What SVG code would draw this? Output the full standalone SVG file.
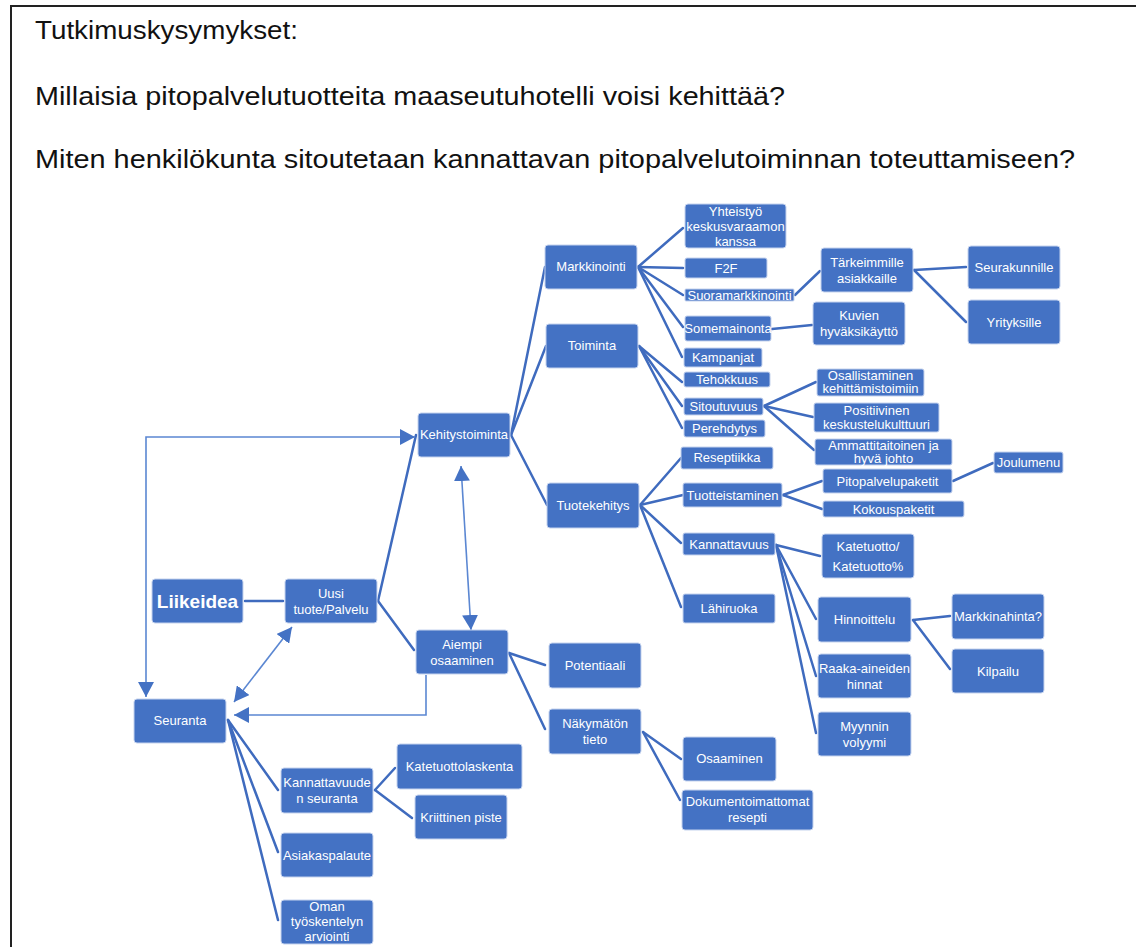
<svg xmlns="http://www.w3.org/2000/svg" width="1136" height="947" viewBox="0 0 1136 947">
  <style>
    .node rect { fill: #4472C4; stroke: #C5D3EE; stroke-width: 1; }
    .node text { fill: #ffffff; font-family: "Liberation Sans", Arial, sans-serif; font-size: 13px; text-anchor: middle; }
    .big text { font-size: 19px; font-weight: bold; }
    .title { font-family: "Liberation Sans", Arial, sans-serif; font-size: 26px; fill: #111111; }
    .link { stroke: #3F6BBE; stroke-width: 2.5; fill: none; stroke-linecap: round; }
    .flow { stroke: #5B87D2; stroke-width: 1.6; fill: none; }
  </style>
  <defs>
    <marker id="head" viewBox="0 0 15 16" refX="15" refY="8" markerWidth="15" markerHeight="16" markerUnits="userSpaceOnUse" orient="auto-start-reverse">
      <path d="M0,0 L15,8 L0,16 z" fill="#4472C4"/>
    </marker>
  </defs>

  <rect width="1136" height="947" fill="#ffffff"/>
  <!-- frame -->
  <path d="M11,947 V6 H1136" fill="none" stroke="#222222" stroke-width="2"/>

  <!-- research questions -->
  <g id="questions">
    <text class="title" x="35" y="39" textLength="263" lengthAdjust="spacingAndGlyphs">Tutkimuskysymykset:</text>
    <text class="title" x="35" y="105" textLength="750" lengthAdjust="spacingAndGlyphs">Millaisia pitopalvelutuotteita maaseutuhotelli voisi kehittää?</text>
    <text class="title" x="35" y="168" textLength="1040" lengthAdjust="spacingAndGlyphs">Miten henkilökunta sitoutetaan kannattavan pitopalvelutoiminnan toteuttamiseen?</text>
  </g>

  <!-- connectors -->
  <g id="connectors">
    <g class="link-set">
      <line class="link" x1="245" y1="601" x2="283" y2="601"/>
      <line class="link" x1="378" y1="601" x2="416" y2="435"/>
      <line class="link" x1="378" y1="601" x2="414" y2="650"/>
      <line class="link" x1="511" y1="435" x2="545" y2="267"/>
      <line class="link" x1="511" y1="435" x2="546" y2="346"/>
      <line class="link" x1="511" y1="435" x2="547" y2="505"/>
      <line class="link" x1="638" y1="267" x2="683" y2="228"/>
      <line class="link" x1="638" y1="267" x2="683" y2="268"/>
      <line class="link" x1="638" y1="267" x2="683" y2="295"/>
      <line class="link" x1="638" y1="267" x2="683" y2="327"/>
      <line class="link" x1="638" y1="267" x2="682" y2="357"/>
      <line class="link" x1="639" y1="346" x2="682" y2="382"/>
      <line class="link" x1="639" y1="346" x2="682" y2="406"/>
      <line class="link" x1="639" y1="346" x2="682" y2="428"/>
      <line class="link" x1="764" y1="406" x2="816" y2="382"/>
      <line class="link" x1="764" y1="406" x2="813" y2="417"/>
      <line class="link" x1="764" y1="406" x2="814" y2="450"/>
      <line class="link" x1="795" y1="295" x2="820" y2="271"/>
      <line class="link" x1="772" y1="329" x2="812" y2="325"/>
      <line class="link" x1="914" y1="270" x2="966" y2="267"/>
      <line class="link" x1="914" y1="270" x2="966" y2="322"/>
      <line class="link" x1="640" y1="505" x2="681" y2="458"/>
      <line class="link" x1="640" y1="505" x2="683" y2="495"/>
      <line class="link" x1="640" y1="505" x2="681" y2="543"/>
      <line class="link" x1="640" y1="505" x2="681" y2="607"/>
      <line class="link" x1="783" y1="495" x2="822" y2="481"/>
      <line class="link" x1="783" y1="495" x2="822" y2="509"/>
      <line class="link" x1="953" y1="481" x2="993" y2="463"/>
      <line class="link" x1="776" y1="545" x2="820" y2="556"/>
      <line class="link" x1="776" y1="545" x2="816" y2="619"/>
      <line class="link" x1="776" y1="545" x2="816" y2="676"/>
      <line class="link" x1="776" y1="545" x2="816" y2="733"/>
      <line class="link" x1="913" y1="620" x2="950" y2="616"/>
      <line class="link" x1="913" y1="620" x2="950" y2="669"/>
      <line class="link" x1="509" y1="653" x2="545" y2="665"/>
      <line class="link" x1="509" y1="653" x2="545" y2="729"/>
      <line class="link" x1="643" y1="732" x2="681" y2="759"/>
      <line class="link" x1="643" y1="732" x2="680" y2="800"/>
      <line class="link" x1="228" y1="720" x2="278" y2="790"/>
      <line class="link" x1="228" y1="720" x2="278" y2="852"/>
      <line class="link" x1="228" y1="720" x2="278" y2="920"/>
      <line class="link" x1="375" y1="790" x2="395" y2="768"/>
      <line class="link" x1="375" y1="790" x2="412" y2="818"/>
    </g>
    <g class="flow-set">
      <path class="flow" d="M146,697 V437 H415" marker-start="url(#head)" marker-end="url(#head)"/>
      <line class="flow" x1="461" y1="466" x2="471" y2="630" marker-start="url(#head)" marker-end="url(#head)"/>
      <line class="flow" x1="234" y1="702" x2="292" y2="627" marker-start="url(#head)" marker-end="url(#head)"/>
      <path class="flow" d="M426,675 V715 H234" marker-end="url(#head)"/>
    </g>
  </g>

  <!-- nodes -->
  <g id="kehitystoiminta" class="node"><rect x="418" y="413" width="92" height="44" rx="3"/><text x="464" y="439">Kehitystoiminta</text></g>
  <g id="liikeidea" class="node big"><rect x="152" y="579" width="91" height="44" rx="3"/><text x="197.5" y="608">Liikeidea</text></g>
  <g id="uusi" class="node"><rect x="285" y="579" width="92" height="44" rx="3"/><text x="331" y="598">Uusi</text><text x="331" y="614">tuote/Palvelu</text></g>
  <g id="aiempi" class="node"><rect x="416" y="630" width="92" height="44" rx="3"/><text x="462" y="649">Aiempi</text><text x="462" y="665">osaaminen</text></g>
  <g id="seuranta" class="node"><rect x="134" y="699" width="92" height="44" rx="3"/><text x="180" y="725">Seuranta</text></g>

  <g id="markkinointi" class="node"><rect x="545" y="245" width="92" height="44" rx="3"/><text x="591" y="271">Markkinointi</text></g>
  <g id="toiminta" class="node"><rect x="546" y="324" width="92" height="44" rx="3"/><text x="592" y="350">Toiminta</text></g>
  <g id="tuotekehitys" class="node"><rect x="547" y="483" width="92" height="45" rx="3"/><text x="593" y="510">Tuotekehitys</text></g>

  <g id="yhteistyo" class="node"><rect x="685" y="204" width="101" height="44" rx="3"/><text x="735.5" y="216">Yhteistyö</text><text x="735.5" y="231">keskusvaraamon</text><text x="735.5" y="246">kanssa</text></g>
  <g id="f2f" class="node"><rect x="685" y="258" width="82" height="20" rx="2"/><text x="726" y="272.5">F2F</text></g>
  <g id="suoramarkkinointi" class="node"><rect x="685" y="289" width="109" height="12" rx="1"/><text x="739.5" y="299.5">Suoramarkkinointi</text></g>
  <g id="somemainonta" class="node"><rect x="685" y="316" width="86" height="25" rx="2"/><text x="728" y="333">Somemainonta</text></g>
  <g id="kampanjat" class="node"><rect x="684" y="348" width="78" height="19" rx="2"/><text x="723" y="362">Kampanjat</text></g>
  <g id="tehokkuus" class="node"><rect x="684" y="372" width="86" height="15" rx="2"/><text x="727" y="384">Tehokkuus</text></g>
  <g id="sitoutuvuus" class="node"><rect x="684" y="398" width="79" height="17" rx="2"/><text x="723.5" y="411">Sitoutuvuus</text></g>
  <g id="perehdytys" class="node"><rect x="684" y="420" width="81" height="17" rx="2"/><text x="724.5" y="433">Perehdytys</text></g>

  <g id="osallistaminen" class="node"><rect x="817" y="369" width="107" height="27" rx="2"/><text x="870.5" y="380">Osallistaminen</text><text x="870.5" y="393">kehittämistoimiin</text></g>
  <g id="positiivinen" class="node"><rect x="814" y="403" width="125" height="29" rx="2"/><text x="876.5" y="415">Positiivinen</text><text x="876.5" y="429">keskustelukulttuuri</text></g>
  <g id="ammattitaitoinen" class="node"><rect x="815" y="439" width="137" height="26" rx="2"/><text x="883.5" y="450">Ammattitaitoinen ja</text><text x="883.5" y="463">hyvä johto</text></g>

  <g id="tarkeimmille" class="node"><rect x="821" y="248" width="92" height="44" rx="3"/><text x="867" y="267">Tärkeimmille</text><text x="867" y="283">asiakkaille</text></g>
  <g id="kuvien" class="node"><rect x="813" y="302" width="92" height="43" rx="3"/><text x="859" y="320">Kuvien</text><text x="859" y="336">hyväksikäyttö</text></g>
  <g id="seurakunnille" class="node"><rect x="968" y="246" width="92" height="43" rx="3"/><text x="1014" y="272">Seurakunnille</text></g>
  <g id="yrityksille" class="node"><rect x="968" y="300" width="92" height="44" rx="3"/><text x="1014" y="327">Yrityksille</text></g>

  <g id="reseptiikka" class="node"><rect x="681" y="447" width="92" height="22" rx="2"/><text x="727" y="462">Reseptiikka</text></g>
  <g id="tuotteistaminen" class="node"><rect x="683" y="483" width="99" height="24" rx="2"/><text x="732.5" y="499.5">Tuotteistaminen</text></g>
  <g id="kannattavuus" class="node"><rect x="683" y="533" width="92" height="22" rx="2"/><text x="729" y="548.5">Kannattavuus</text></g>
  <g id="lahiruoka" class="node"><rect x="683" y="594" width="92" height="29" rx="2"/><text x="729" y="613">Lähiruoka</text></g>

  <g id="pitopalvelupaketit" class="node"><rect x="823" y="469" width="129" height="24" rx="2"/><text x="887.5" y="485.5">Pitopalvelupaketit</text></g>
  <g id="kokouspaketit" class="node"><rect x="823" y="501" width="141" height="16" rx="2"/><text x="893.5" y="513.5">Kokouspaketit</text></g>
  <g id="joulumenu" class="node"><rect x="994" y="452" width="69" height="21" rx="2"/><text x="1028.5" y="467">Joulumenu</text></g>

  <g id="katetuotto" class="node"><rect x="822" y="534" width="92" height="44" rx="3"/><text x="868" y="551">Katetuotto/</text><text x="868" y="571">Katetuotto%</text></g>
  <g id="hinnoittelu" class="node"><rect x="818" y="597" width="93" height="45" rx="3"/><text x="864.5" y="624">Hinnoittelu</text></g>
  <g id="markkinahinta" class="node"><rect x="952" y="594" width="92" height="45" rx="3"/><text x="998" y="621">Markkinahinta?</text></g>
  <g id="kilpailu" class="node"><rect x="952" y="649" width="92" height="44" rx="3"/><text x="998" y="676">Kilpailu</text></g>
  <g id="raaka-aineiden" class="node"><rect x="818" y="654" width="93" height="44" rx="3"/><text x="864.5" y="673">Raaka-aineiden</text><text x="864.5" y="689">hinnat</text></g>
  <g id="myynnin" class="node"><rect x="818" y="712" width="93" height="44" rx="3"/><text x="864.5" y="731">Myynnin</text><text x="864.5" y="747">volyymi</text></g>

  <g id="potentiaali" class="node"><rect x="549" y="643" width="92" height="45" rx="3"/><text x="595" y="670">Potentiaali</text></g>
  <g id="nakymaton" class="node"><rect x="549" y="709" width="92" height="45" rx="3"/><text x="595" y="728">Näkymätön</text><text x="595" y="744">tieto</text></g>
  <g id="osaaminen" class="node"><rect x="683" y="737" width="93" height="44" rx="3"/><text x="729.5" y="763">Osaaminen</text></g>
  <g id="dokumentoimattomat" class="node"><rect x="682" y="790" width="131" height="40" rx="3"/><text x="747.5" y="806">Dokumentoimattomat</text><text x="747.5" y="822">resepti</text></g>

  <g id="kannattavuuden-seuranta" class="node"><rect x="281" y="768" width="92" height="45" rx="3"/><text x="327" y="787">Kannattavuude</text><text x="327" y="803">n seuranta</text></g>
  <g id="katetuottolaskenta" class="node"><rect x="397" y="744" width="125" height="45" rx="3"/><text x="459.5" y="771">Katetuottolaskenta</text></g>
  <g id="kriittinen-piste" class="node"><rect x="415" y="795" width="92" height="44" rx="3"/><text x="461" y="822">Kriittinen piste</text></g>
  <g id="asiakaspalaute" class="node"><rect x="281" y="833" width="92" height="44" rx="3"/><text x="327" y="860">Asiakaspalaute</text></g>
  <g id="oman-tyoskentelyn" class="node"><rect x="281" y="900" width="92" height="44" rx="3"/><text x="327" y="911">Oman</text><text x="327" y="926">työskentelyn</text><text x="327" y="941">arviointi</text></g>
</svg>
